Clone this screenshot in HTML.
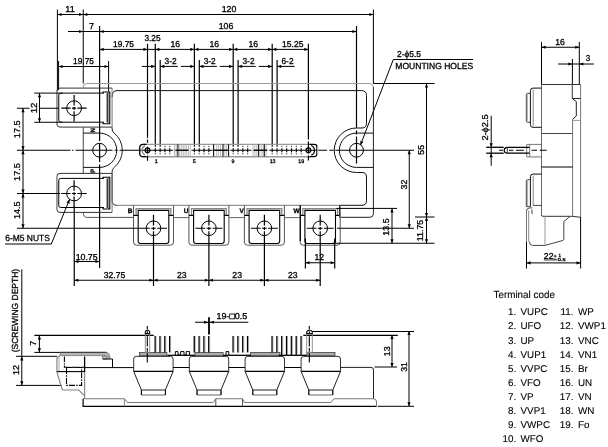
<!DOCTYPE html>
<html><head><meta charset="utf-8"><title>Outline drawing</title>
<style>
html,body{margin:0;padding:0;background:#fff;}
svg{display:block;}
text{font-family:"Liberation Sans",sans-serif;stroke:#000;stroke-width:0.3px;text-rendering:geometricPrecision;}
svg{filter:grayscale(1);}
</style></head>
<body>
<svg width="608" height="447" viewBox="0 0 608 447">
<rect width="608" height="447" fill="#fff"/>
<line x1="57.4" y1="9.5" x2="57.4" y2="91" stroke="#000" stroke-width="1"/>
<line x1="83.25" y1="9.5" x2="83.25" y2="83.5" stroke="#000" stroke-width="1"/>
<line x1="373.4" y1="9.5" x2="373.4" y2="83.5" stroke="#000" stroke-width="1"/>
<line x1="57.4" y1="14.5" x2="373.4" y2="14.5" stroke="#000" stroke-width="1"/>
<polygon points="57.4,14.5 61.5,12.9 61.5,16.1" fill="#000"/>
<polygon points="83.25,14.5 79.15,12.9 79.15,16.1" fill="#000"/>
<polygon points="83.25,14.5 87.35,12.9 87.35,16.1" fill="#000"/>
<polygon points="373.4,14.5 369.3,12.9 369.3,16.1" fill="#000"/>
<text x="70" y="12" font-size="8.6" text-anchor="middle" fill="#000" textLength="9.4" lengthAdjust="spacingAndGlyphs">11</text>
<text x="229" y="12" font-size="8.6" text-anchor="middle" fill="#000" textLength="14.63" lengthAdjust="spacingAndGlyphs">120</text>
<line x1="99.6" y1="26" x2="99.6" y2="127" stroke="#000" stroke-width="1.2"/>
<line x1="356.5" y1="26" x2="356.5" y2="128" stroke="#000" stroke-width="1.2"/>
<line x1="68" y1="31.5" x2="356.5" y2="31.5" stroke="#000" stroke-width="1"/>
<polygon points="83.25,31.5 79.15,29.9 79.15,33.1" fill="#000"/>
<polygon points="99.6,31.5 103.7,29.9 103.7,33.1" fill="#000"/>
<polygon points="356.5,31.5 352.4,29.9 352.4,33.1" fill="#000"/>
<text x="91.5" y="29" font-size="8.6" text-anchor="middle" fill="#000" textLength="4.7" lengthAdjust="spacingAndGlyphs">7</text>
<text x="226" y="28.5" font-size="8.6" text-anchor="middle" fill="#000" textLength="14.63" lengthAdjust="spacingAndGlyphs">106</text>
<line x1="58.6" y1="61" x2="58.6" y2="90" stroke="#000" stroke-width="1"/>
<line x1="108.6" y1="61" x2="108.6" y2="91.5" stroke="#000" stroke-width="1"/>
<line x1="58.6" y1="66.5" x2="108.6" y2="66.5" stroke="#000" stroke-width="1"/>
<polygon points="58.6,66.5 62.7,64.9 62.7,68.1" fill="#000"/>
<polygon points="108.6,66.5 104.5,64.9 104.5,68.1" fill="#000"/>
<text x="83.5" y="63.5" font-size="8.6" text-anchor="middle" fill="#000" textLength="20.9" lengthAdjust="spacingAndGlyphs">19.75</text>
<line x1="99.6" y1="49.4" x2="308.4" y2="49.4" stroke="#000" stroke-width="1"/>
<line x1="147.5" y1="43.75" x2="147.5" y2="138" stroke="#000" stroke-width="1.2"/>
<line x1="308.4" y1="43.75" x2="308.4" y2="139.5" stroke="#000" stroke-width="1.2"/>
<polygon points="99.6,49.4 103.7,47.8 103.7,51" fill="#000"/>
<polygon points="147.5,49.4 143.4,47.8 143.4,51" fill="#000"/>
<text x="123.5" y="47" font-size="8.6" text-anchor="middle" fill="#000" textLength="20.9" lengthAdjust="spacingAndGlyphs">19.75</text>
<text x="152.5" y="40.5" font-size="8.6" text-anchor="middle" fill="#000" textLength="16.2" lengthAdjust="spacingAndGlyphs">3.25</text>
<line x1="155.3" y1="43.75" x2="155.3" y2="146" stroke="#000" stroke-width="1.2"/>
<line x1="160.2" y1="60" x2="160.2" y2="146" stroke="#000" stroke-width="1.2"/>
<line x1="194.4" y1="43.75" x2="194.4" y2="146" stroke="#000" stroke-width="1.2"/>
<line x1="199.3" y1="60" x2="199.3" y2="146" stroke="#000" stroke-width="1.2"/>
<line x1="233.2" y1="43.75" x2="233.2" y2="146" stroke="#000" stroke-width="1.2"/>
<line x1="238.1" y1="60" x2="238.1" y2="146" stroke="#000" stroke-width="1.2"/>
<line x1="272.2" y1="43.75" x2="272.2" y2="146" stroke="#000" stroke-width="1.2"/>
<line x1="277.1" y1="60" x2="277.1" y2="146" stroke="#000" stroke-width="1.2"/>
<polygon points="155.3,49.4 159.4,47.8 159.4,51" fill="#000"/>
<polygon points="194.4,49.4 190.3,47.8 190.3,51" fill="#000"/>
<text x="175.35" y="47" font-size="8.6" text-anchor="middle" fill="#000" textLength="9.61" lengthAdjust="spacingAndGlyphs">16</text>
<line x1="141.8" y1="66.4" x2="155.3" y2="66.4" stroke="#000" stroke-width="1"/>
<polygon points="155.3,66.4 151.2,64.8 151.2,68" fill="#000"/>
<line x1="160.2" y1="66.4" x2="177.8" y2="66.4" stroke="#000" stroke-width="1"/>
<polygon points="160.2,66.4 164.3,64.8 164.3,68" fill="#000"/>
<text x="170.6" y="63.6" font-size="8.6" text-anchor="middle" fill="#000" textLength="12.02" lengthAdjust="spacingAndGlyphs">3-2</text>
<polygon points="194.4,49.4 198.5,47.8 198.5,51" fill="#000"/>
<polygon points="233.2,49.4 229.1,47.8 229.1,51" fill="#000"/>
<text x="214.3" y="47" font-size="8.6" text-anchor="middle" fill="#000" textLength="9.61" lengthAdjust="spacingAndGlyphs">16</text>
<line x1="180.9" y1="66.4" x2="194.4" y2="66.4" stroke="#000" stroke-width="1"/>
<polygon points="194.4,66.4 190.3,64.8 190.3,68" fill="#000"/>
<line x1="199.3" y1="66.4" x2="216.9" y2="66.4" stroke="#000" stroke-width="1"/>
<polygon points="199.3,66.4 203.4,64.8 203.4,68" fill="#000"/>
<text x="209.7" y="63.6" font-size="8.6" text-anchor="middle" fill="#000" textLength="12.02" lengthAdjust="spacingAndGlyphs">3-2</text>
<polygon points="233.2,49.4 237.3,47.8 237.3,51" fill="#000"/>
<polygon points="272.2,49.4 268.1,47.8 268.1,51" fill="#000"/>
<text x="253.2" y="47" font-size="8.6" text-anchor="middle" fill="#000" textLength="9.61" lengthAdjust="spacingAndGlyphs">16</text>
<line x1="219.7" y1="66.4" x2="233.2" y2="66.4" stroke="#000" stroke-width="1"/>
<polygon points="233.2,66.4 229.1,64.8 229.1,68" fill="#000"/>
<line x1="238.1" y1="66.4" x2="255.7" y2="66.4" stroke="#000" stroke-width="1"/>
<polygon points="238.1,66.4 242.2,64.8 242.2,68" fill="#000"/>
<text x="248.5" y="63.6" font-size="8.6" text-anchor="middle" fill="#000" textLength="12.02" lengthAdjust="spacingAndGlyphs">3-2</text>
<polygon points="272.2,49.4 276.3,47.8 276.3,51" fill="#000"/>
<polygon points="308.4,49.4 304.3,47.8 304.3,51" fill="#000"/>
<text x="292.8" y="47" font-size="8.6" text-anchor="middle" fill="#000" textLength="21.42" lengthAdjust="spacingAndGlyphs">15.25</text>
<line x1="258.7" y1="66.4" x2="272.2" y2="66.4" stroke="#000" stroke-width="1"/>
<polygon points="272.2,66.4 268.1,64.8 268.1,68" fill="#000"/>
<line x1="277.1" y1="66.4" x2="294.7" y2="66.4" stroke="#000" stroke-width="1"/>
<polygon points="277.1,66.4 281.2,64.8 281.2,68" fill="#000"/>
<text x="287.5" y="63.6" font-size="8.6" text-anchor="middle" fill="#000" textLength="12.02" lengthAdjust="spacingAndGlyphs">6-2</text>
<path d="M83.25,88 V87.5 Q83.25,83.5 86.75,83.5 H369.9 Q373.4,83.5 373.4,87" fill="none" stroke="#999" stroke-width="1"/>
<path d="M373.4,87 V213.7 Q373.4,217.3 369.9,217.3 H339.5" fill="none" stroke="#222" stroke-width="1"/>
<line x1="83.25" y1="127.25" x2="83.25" y2="173.4" stroke="#444" stroke-width="1"/>
<path d="M83.25,212 Q83.25,217.4 86.75,217.4 H133.5" fill="none" stroke="#555" stroke-width="1"/>
<path d="M112.1,97 Q112.1,90.6 117,90.6 H361.5 Q366.5,90.6 366.5,95.5 V123.3 Q366.5,128 362,128 H356.5 A22.25,22.25 0 0 0 356.5,172.5 H362 Q366.5,172.5 366.5,177 V200.8 Q366.5,205.3 362,205.3 H339.5" fill="none" stroke="#111" stroke-width="1"/>
<line x1="117" y1="205.3" x2="339.5" y2="205.3" stroke="#777" stroke-width="1"/>
<path d="M117,205.3 Q112.1,205.3 112.1,200.5 V171.5 Q112.1,169.5 114,167.6 A22.25,22.25 0 0 0 114,132.9 Q112.1,131 112.1,129 V127.25" fill="none" stroke="#222" stroke-width="1"/>
<path d="M83.25,133.1 H99.6 A17.1,17.1 0 0 1 99.6,167.4 H83.25" fill="none" stroke="#111" stroke-width="1"/>
<path d="M373.4,133.1 H356.5 A17.1,17.1 0 0 0 356.5,167.4 H373.4" fill="none" stroke="#111" stroke-width="1"/>
<circle cx="99.6" cy="150.25" r="6.9" fill="none" stroke="#000" stroke-width="1"/>
<circle cx="356.5" cy="150.25" r="6.9" fill="none" stroke="#000" stroke-width="1"/>
<line x1="99.6" y1="127" x2="99.6" y2="268" stroke="#000" stroke-width="1.2" stroke-dasharray="14 2.5 18.5 2.5 200"/>
<line x1="356.5" y1="130.5" x2="356.5" y2="163.5" stroke="#000" stroke-width="1.2" stroke-dasharray="4 2 40"/>
<line x1="17" y1="150.25" x2="70.5" y2="150.25" stroke="#000" stroke-width="1"/>
<line x1="72" y1="150.25" x2="139.4" y2="150.25" stroke="#000" stroke-width="1" stroke-dasharray="1.5 2 37 2 3 2 40"/>
<line x1="139" y1="150.25" x2="173.3" y2="150.25" stroke="#000" stroke-width="1"/>
<line x1="191.5" y1="150.25" x2="212.6" y2="150.25" stroke="#000" stroke-width="1"/>
<line x1="230.3" y1="150.25" x2="251.4" y2="150.25" stroke="#000" stroke-width="1"/>
<line x1="269.3" y1="150.25" x2="317.5" y2="150.25" stroke="#000" stroke-width="1"/>
<line x1="317.6" y1="150.25" x2="366" y2="150.25" stroke="#000" stroke-width="1" stroke-dasharray="9.5 2.2 4.5 1.5 40"/>
<line x1="366" y1="150.25" x2="414" y2="150.25" stroke="#000" stroke-width="1"/>
<text x="95.3" y="130.3" font-size="6.3" text-anchor="middle" fill="#000" transform="rotate(-90 95.3 130.3)" textLength="4.39" lengthAdjust="spacingAndGlyphs" font-weight="bold">N</text>
<text x="95.3" y="171" font-size="6.3" text-anchor="middle" fill="#000" transform="rotate(-90 95.3 171)" textLength="4.18" lengthAdjust="spacingAndGlyphs" font-weight="bold">P</text>
<path d="M112.1,88.1 H60 Q56.9,88.1 56.9,91.1 V124.1 Q56.9,127.1 60,127.1 H112.1" fill="none" stroke="#333" stroke-width="1"/>
<line x1="57.1" y1="91.6" x2="57.1" y2="123.6" stroke="#aaa" stroke-width="1.4"/>
<line x1="112.1" y1="88.1" x2="112.1" y2="127.1" stroke="#777" stroke-width="1"/>
<path d="M104,93.1 H60.8 Q58.75,93.1 58.75,95.1 V120.2 Q58.75,122.2 60.8,122.2 H104" fill="none" stroke="#000" stroke-width="1"/>
<line x1="108.5" y1="92" x2="108.5" y2="123.7" stroke="#999" stroke-width="1.5"/>
<path d="M103,93.3 V92 H109.8 V123.7 H103 V122.4" fill="none" stroke="#000" stroke-width="1.1"/>
<line x1="107.2" y1="93.1" x2="107.2" y2="122.6" stroke="#000" stroke-width="1.1"/>
<circle cx="74.1" cy="108.2" r="7.4" fill="none" stroke="#000" stroke-width="1"/>
<line x1="61.3" y1="108.2" x2="86.6" y2="108.2" stroke="#000" stroke-width="1.2" stroke-dasharray="9.3 1.4 4 1.4 9.3"/>
<line x1="74.1" y1="95" x2="74.1" y2="121.6" stroke="#000" stroke-width="1.2" stroke-dasharray="10.5 1.4 3 1.4 10.5"/>
<path d="M112.1,173.4 H60 Q56.9,173.4 56.9,176.4 V209.4 Q56.9,212.4 60,212.4 H112.1" fill="none" stroke="#333" stroke-width="1"/>
<line x1="57.1" y1="176.9" x2="57.1" y2="208.9" stroke="#aaa" stroke-width="1.4"/>
<line x1="112.1" y1="173.4" x2="112.1" y2="212.4" stroke="#777" stroke-width="1"/>
<path d="M104,178.4 H60.8 Q58.75,178.4 58.75,180.4 V205.5 Q58.75,207.5 60.8,207.5 H104" fill="none" stroke="#000" stroke-width="1"/>
<line x1="108.5" y1="177.3" x2="108.5" y2="209" stroke="#999" stroke-width="1.5"/>
<path d="M103,178.6 V177.3 H109.8 V209 H103 V207.7" fill="none" stroke="#000" stroke-width="1.1"/>
<line x1="107.2" y1="178.4" x2="107.2" y2="207.9" stroke="#000" stroke-width="1.1"/>
<circle cx="74.1" cy="193.5" r="7.4" fill="none" stroke="#000" stroke-width="1"/>
<line x1="61.3" y1="193.5" x2="86.6" y2="193.5" stroke="#000" stroke-width="1.2" stroke-dasharray="9.3 1.4 4 1.4 9.3"/>
<line x1="74.1" y1="180.3" x2="74.1" y2="206.9" stroke="#000" stroke-width="1.2" stroke-dasharray="10.5 1.4 3 1.4 10.5"/>
<line x1="143" y1="144.35" x2="311" y2="144.35" stroke="#999" stroke-width="1.3"/>
<line x1="143" y1="156.75" x2="311" y2="156.75" stroke="#999" stroke-width="1.3"/>
<path d="M146.5,144.4 H143.2 Q139.7,144.4 139.7,147.9 V153.2 Q139.7,156.7 143.2,156.7 H146.5" fill="none" stroke="#000" stroke-width="1.3"/>
<path d="M145,145.6 A5.2,5.2 0 0 0 145,154.9" fill="none" stroke="#888" stroke-width="1.3"/>
<path d="M309.5,144.4 H314.4 Q316.9,144.4 316.9,147 V154.1 Q316.9,156.6 314.4,156.6 H309.5" fill="none" stroke="#000" stroke-width="1.2"/>
<path d="M311.2,145.5 A5.3,5.3 0 0 1 311.2,155.3" fill="none" stroke="#000" stroke-width="1.2"/>
<line x1="317.9" y1="146.5" x2="317.9" y2="154.5" stroke="#ccc" stroke-width="1"/>
<circle cx="147.5" cy="150.25" r="2.4" fill="none" stroke="#000" stroke-width="1.2"/>
<circle cx="308.4" cy="150.25" r="2.4" fill="none" stroke="#000" stroke-width="1.2"/>
<line x1="147.5" y1="139.5" x2="147.5" y2="142.7" stroke="#000" stroke-width="1.2"/>
<line x1="147.5" y1="146.7" x2="147.5" y2="153.7" stroke="#000" stroke-width="1.2"/>
<line x1="147.5" y1="155.5" x2="147.5" y2="160.8" stroke="#000" stroke-width="1.2"/>
<line x1="308.4" y1="141.5" x2="308.4" y2="153.7" stroke="#000" stroke-width="1.2"/>
<line x1="308.4" y1="155.5" x2="308.4" y2="160.6" stroke="#000" stroke-width="1.2"/>
<line x1="155.3" y1="148.2" x2="155.3" y2="152.3" stroke="#000" stroke-width="1.1"/>
<line x1="155.3" y1="145.8" x2="155.3" y2="147.1" stroke="#333" stroke-width="1"/>
<line x1="155.3" y1="153.2" x2="155.3" y2="154.4" stroke="#333" stroke-width="1"/>
<line x1="160.13" y1="148.2" x2="160.13" y2="152.3" stroke="#000" stroke-width="1.1"/>
<line x1="160.13" y1="145.8" x2="160.13" y2="147.1" stroke="#333" stroke-width="1"/>
<line x1="160.13" y1="153.2" x2="160.13" y2="154.4" stroke="#333" stroke-width="1"/>
<line x1="164.96" y1="148.2" x2="164.96" y2="152.3" stroke="#000" stroke-width="1.1"/>
<line x1="164.96" y1="145.8" x2="164.96" y2="147.1" stroke="#333" stroke-width="1"/>
<line x1="164.96" y1="153.2" x2="164.96" y2="154.4" stroke="#333" stroke-width="1"/>
<line x1="169.79" y1="148.2" x2="169.79" y2="152.3" stroke="#000" stroke-width="1.1"/>
<line x1="169.79" y1="145.8" x2="169.79" y2="147.1" stroke="#333" stroke-width="1"/>
<line x1="169.79" y1="153.2" x2="169.79" y2="154.4" stroke="#333" stroke-width="1"/>
<line x1="194.4" y1="148.2" x2="194.4" y2="152.3" stroke="#000" stroke-width="1.1"/>
<line x1="194.4" y1="145.8" x2="194.4" y2="147.1" stroke="#333" stroke-width="1"/>
<line x1="194.4" y1="153.2" x2="194.4" y2="154.4" stroke="#333" stroke-width="1"/>
<line x1="199.23" y1="148.2" x2="199.23" y2="152.3" stroke="#000" stroke-width="1.1"/>
<line x1="199.23" y1="145.8" x2="199.23" y2="147.1" stroke="#333" stroke-width="1"/>
<line x1="199.23" y1="153.2" x2="199.23" y2="154.4" stroke="#333" stroke-width="1"/>
<line x1="204.06" y1="148.2" x2="204.06" y2="152.3" stroke="#000" stroke-width="1.1"/>
<line x1="204.06" y1="145.8" x2="204.06" y2="147.1" stroke="#333" stroke-width="1"/>
<line x1="204.06" y1="153.2" x2="204.06" y2="154.4" stroke="#333" stroke-width="1"/>
<line x1="208.89" y1="148.2" x2="208.89" y2="152.3" stroke="#000" stroke-width="1.1"/>
<line x1="208.89" y1="145.8" x2="208.89" y2="147.1" stroke="#333" stroke-width="1"/>
<line x1="208.89" y1="153.2" x2="208.89" y2="154.4" stroke="#333" stroke-width="1"/>
<line x1="233.2" y1="148.2" x2="233.2" y2="152.3" stroke="#000" stroke-width="1.1"/>
<line x1="233.2" y1="145.8" x2="233.2" y2="147.1" stroke="#333" stroke-width="1"/>
<line x1="233.2" y1="153.2" x2="233.2" y2="154.4" stroke="#333" stroke-width="1"/>
<line x1="238.03" y1="148.2" x2="238.03" y2="152.3" stroke="#000" stroke-width="1.1"/>
<line x1="238.03" y1="145.8" x2="238.03" y2="147.1" stroke="#333" stroke-width="1"/>
<line x1="238.03" y1="153.2" x2="238.03" y2="154.4" stroke="#333" stroke-width="1"/>
<line x1="242.86" y1="148.2" x2="242.86" y2="152.3" stroke="#000" stroke-width="1.1"/>
<line x1="242.86" y1="145.8" x2="242.86" y2="147.1" stroke="#333" stroke-width="1"/>
<line x1="242.86" y1="153.2" x2="242.86" y2="154.4" stroke="#333" stroke-width="1"/>
<line x1="247.69" y1="148.2" x2="247.69" y2="152.3" stroke="#000" stroke-width="1.1"/>
<line x1="247.69" y1="145.8" x2="247.69" y2="147.1" stroke="#333" stroke-width="1"/>
<line x1="247.69" y1="153.2" x2="247.69" y2="154.4" stroke="#333" stroke-width="1"/>
<line x1="272.2" y1="148.2" x2="272.2" y2="152.3" stroke="#000" stroke-width="1.1"/>
<line x1="272.2" y1="145.8" x2="272.2" y2="147.1" stroke="#333" stroke-width="1"/>
<line x1="272.2" y1="153.2" x2="272.2" y2="154.4" stroke="#333" stroke-width="1"/>
<line x1="277.03" y1="148.2" x2="277.03" y2="152.3" stroke="#000" stroke-width="1.1"/>
<line x1="277.03" y1="145.8" x2="277.03" y2="147.1" stroke="#333" stroke-width="1"/>
<line x1="277.03" y1="153.2" x2="277.03" y2="154.4" stroke="#333" stroke-width="1"/>
<line x1="281.86" y1="148.2" x2="281.86" y2="152.3" stroke="#000" stroke-width="1.1"/>
<line x1="281.86" y1="145.8" x2="281.86" y2="147.1" stroke="#333" stroke-width="1"/>
<line x1="281.86" y1="153.2" x2="281.86" y2="154.4" stroke="#333" stroke-width="1"/>
<line x1="286.69" y1="148.2" x2="286.69" y2="152.3" stroke="#000" stroke-width="1.1"/>
<line x1="286.69" y1="145.8" x2="286.69" y2="147.1" stroke="#333" stroke-width="1"/>
<line x1="286.69" y1="153.2" x2="286.69" y2="154.4" stroke="#333" stroke-width="1"/>
<line x1="291.52" y1="148.2" x2="291.52" y2="152.3" stroke="#000" stroke-width="1.1"/>
<line x1="291.52" y1="145.8" x2="291.52" y2="147.1" stroke="#333" stroke-width="1"/>
<line x1="291.52" y1="153.2" x2="291.52" y2="154.4" stroke="#333" stroke-width="1"/>
<line x1="296.35" y1="148.2" x2="296.35" y2="152.3" stroke="#000" stroke-width="1.1"/>
<line x1="296.35" y1="145.8" x2="296.35" y2="147.1" stroke="#333" stroke-width="1"/>
<line x1="296.35" y1="153.2" x2="296.35" y2="154.4" stroke="#333" stroke-width="1"/>
<line x1="301.18" y1="148.2" x2="301.18" y2="152.3" stroke="#000" stroke-width="1.1"/>
<line x1="301.18" y1="145.8" x2="301.18" y2="147.1" stroke="#333" stroke-width="1"/>
<line x1="301.18" y1="153.2" x2="301.18" y2="154.4" stroke="#333" stroke-width="1"/>
<line x1="174.5" y1="144.2" x2="174.5" y2="156.6" stroke="#aaa" stroke-width="0.8"/>
<line x1="176.2" y1="144.2" x2="176.2" y2="156.6" stroke="#aaa" stroke-width="0.8"/>
<line x1="179.8" y1="144.2" x2="179.8" y2="156.6" stroke="#aaa" stroke-width="0.8"/>
<line x1="181.6" y1="144.2" x2="181.6" y2="156.6" stroke="#aaa" stroke-width="0.8"/>
<line x1="183.3" y1="144.2" x2="183.3" y2="156.6" stroke="#aaa" stroke-width="0.8"/>
<line x1="185" y1="144.2" x2="185" y2="156.6" stroke="#aaa" stroke-width="0.8"/>
<line x1="186.7" y1="144.2" x2="186.7" y2="156.6" stroke="#aaa" stroke-width="0.8"/>
<line x1="188.5" y1="144.2" x2="188.5" y2="156.6" stroke="#aaa" stroke-width="0.8"/>
<line x1="190.3" y1="144.2" x2="190.3" y2="156.6" stroke="#aaa" stroke-width="0.8"/>
<line x1="177.9" y1="144.2" x2="177.9" y2="156.6" stroke="#111" stroke-width="1.1"/>
<line x1="175.4" y1="150.25" x2="188.5" y2="150.25" stroke="#000" stroke-width="1.4"/>
<line x1="216.7" y1="144.2" x2="216.7" y2="156.6" stroke="#aaa" stroke-width="0.8"/>
<line x1="218.6" y1="144.2" x2="218.6" y2="156.6" stroke="#aaa" stroke-width="0.8"/>
<line x1="220.5" y1="144.2" x2="220.5" y2="156.6" stroke="#aaa" stroke-width="0.8"/>
<line x1="224.9" y1="144.2" x2="224.9" y2="156.6" stroke="#aaa" stroke-width="0.8"/>
<line x1="226.7" y1="144.2" x2="226.7" y2="156.6" stroke="#aaa" stroke-width="0.8"/>
<line x1="213.6" y1="144.2" x2="213.6" y2="156.6" stroke="#111" stroke-width="1.1"/>
<line x1="223" y1="144.2" x2="223" y2="156.6" stroke="#111" stroke-width="1.1"/>
<line x1="228.6" y1="144.2" x2="228.6" y2="156.6" stroke="#111" stroke-width="1.1"/>
<line x1="213.6" y1="150.25" x2="228.6" y2="150.25" stroke="#000" stroke-width="1.4"/>
<line x1="253" y1="144.2" x2="253" y2="156.6" stroke="#aaa" stroke-width="0.8"/>
<line x1="254.9" y1="144.2" x2="254.9" y2="156.6" stroke="#aaa" stroke-width="0.8"/>
<line x1="256.8" y1="144.2" x2="256.8" y2="156.6" stroke="#aaa" stroke-width="0.8"/>
<line x1="261.15" y1="144.2" x2="261.15" y2="156.6" stroke="#aaa" stroke-width="0.8"/>
<line x1="263" y1="144.2" x2="263" y2="156.6" stroke="#aaa" stroke-width="0.8"/>
<line x1="266" y1="144.2" x2="266" y2="156.6" stroke="#aaa" stroke-width="0.8"/>
<line x1="258.65" y1="144.2" x2="258.65" y2="156.6" stroke="#111" stroke-width="1.1"/>
<line x1="264.3" y1="144.2" x2="264.3" y2="156.6" stroke="#111" stroke-width="1.1"/>
<line x1="253.5" y1="150.25" x2="267.4" y2="150.25" stroke="#000" stroke-width="1.4"/>
<text x="156.2" y="162.7" font-size="5.3" text-anchor="middle" fill="#000">1</text>
<text x="194.2" y="162.7" font-size="5.3" text-anchor="middle" fill="#000">5</text>
<text x="233" y="162.7" font-size="5.3" text-anchor="middle" fill="#000">9</text>
<text x="272.6" y="162.7" font-size="5.3" text-anchor="middle" fill="#000">13</text>
<text x="301.2" y="162.7" font-size="5.3" text-anchor="middle" fill="#000">19</text>
<path d="M133.5,205.3 V242 Q133.5,245.2 136.5,245.2 H170.5 Q173.5,245.2 173.5,242 V205.3" fill="none" stroke="#555" stroke-width="1"/>
<path d="M136.1,215.4 V208.6 H170.9 V215.4" fill="none" stroke="#888" stroke-width="1.3"/>
<path d="M138.2,210.4 H168.8 V241 Q168.8,243.5 166.3,243.5 H140.7 Q138.2,243.5 138.2,241 Z" fill="none" stroke="#000" stroke-width="1.1"/>
<line x1="133.5" y1="215.4" x2="138.2" y2="215.4" stroke="#000" stroke-width="1.2"/>
<line x1="168.8" y1="215.4" x2="173.5" y2="215.4" stroke="#000" stroke-width="1.2"/>
<circle cx="153.5" cy="228.25" r="7.3" fill="none" stroke="#000" stroke-width="1"/>
<line x1="140" y1="228.25" x2="167" y2="228.25" stroke="#000" stroke-width="1.2" stroke-dasharray="9.8 1.4 4.6 1.4 9.8"/>
<line x1="153.5" y1="214.8" x2="153.5" y2="286" stroke="#000" stroke-width="1.2" stroke-dasharray="10.7 1.4 3 1.4 100"/>
<line x1="173.5" y1="217.6" x2="189.1" y2="217.6" stroke="#666" stroke-width="1"/>
<path d="M188.9,205.3 V242 Q188.9,245.2 191.9,245.2 H225.9 Q228.9,245.2 228.9,242 V205.3" fill="none" stroke="#555" stroke-width="1"/>
<path d="M191.5,215.4 V208.6 H226.3 V215.4" fill="none" stroke="#888" stroke-width="1.3"/>
<path d="M193.6,210.4 H224.2 V241 Q224.2,243.5 221.7,243.5 H196.1 Q193.6,243.5 193.6,241 Z" fill="none" stroke="#000" stroke-width="1.1"/>
<line x1="188.9" y1="215.4" x2="193.6" y2="215.4" stroke="#000" stroke-width="1.2"/>
<line x1="224.2" y1="215.4" x2="228.9" y2="215.4" stroke="#000" stroke-width="1.2"/>
<circle cx="208.9" cy="228.25" r="7.3" fill="none" stroke="#000" stroke-width="1"/>
<line x1="195.4" y1="228.25" x2="222.4" y2="228.25" stroke="#000" stroke-width="1.2" stroke-dasharray="9.8 1.4 4.6 1.4 9.8"/>
<line x1="208.9" y1="214.8" x2="208.9" y2="286" stroke="#000" stroke-width="1.2" stroke-dasharray="10.7 1.4 3 1.4 100"/>
<line x1="228.9" y1="217.6" x2="244.5" y2="217.6" stroke="#666" stroke-width="1"/>
<path d="M244.4,205.3 V242 Q244.4,245.2 247.4,245.2 H281.4 Q284.4,245.2 284.4,242 V205.3" fill="none" stroke="#555" stroke-width="1"/>
<path d="M247,215.4 V208.6 H281.8 V215.4" fill="none" stroke="#888" stroke-width="1.3"/>
<path d="M249.1,210.4 H279.7 V241 Q279.7,243.5 277.2,243.5 H251.6 Q249.1,243.5 249.1,241 Z" fill="none" stroke="#000" stroke-width="1.1"/>
<line x1="244.4" y1="215.4" x2="249.1" y2="215.4" stroke="#000" stroke-width="1.2"/>
<line x1="279.7" y1="215.4" x2="284.4" y2="215.4" stroke="#000" stroke-width="1.2"/>
<circle cx="264.4" cy="228.25" r="7.3" fill="none" stroke="#000" stroke-width="1"/>
<line x1="250.9" y1="228.25" x2="277.9" y2="228.25" stroke="#000" stroke-width="1.2" stroke-dasharray="9.8 1.4 4.6 1.4 9.8"/>
<line x1="264.4" y1="214.8" x2="264.4" y2="286" stroke="#000" stroke-width="1.2" stroke-dasharray="10.7 1.4 3 1.4 100"/>
<line x1="284.4" y1="217.6" x2="300" y2="217.6" stroke="#666" stroke-width="1"/>
<path d="M300.2,205.3 V242 Q300.2,245.2 303.2,245.2 H337.2 Q340.2,245.2 340.2,242 V205.3" fill="none" stroke="#555" stroke-width="1"/>
<path d="M302.8,215.4 V208.6 H337.6 V215.4" fill="none" stroke="#888" stroke-width="1.3"/>
<path d="M304.9,210.4 H335.5 V241 Q335.5,243.5 333,243.5 H307.4 Q304.9,243.5 304.9,241 Z" fill="none" stroke="#000" stroke-width="1.1"/>
<line x1="300.2" y1="215.4" x2="304.9" y2="215.4" stroke="#000" stroke-width="1.2"/>
<line x1="335.5" y1="215.4" x2="340.2" y2="215.4" stroke="#000" stroke-width="1.2"/>
<circle cx="320.2" cy="228.25" r="7.3" fill="none" stroke="#000" stroke-width="1"/>
<line x1="306.7" y1="228.25" x2="333.7" y2="228.25" stroke="#000" stroke-width="1.2" stroke-dasharray="9.8 1.4 4.6 1.4 9.8"/>
<line x1="320.2" y1="214.8" x2="320.2" y2="286" stroke="#000" stroke-width="1.2" stroke-dasharray="10.7 1.4 3 1.4 100"/>
<text x="130" y="212.6" font-size="6.5" text-anchor="middle" fill="#000" font-weight="bold">B</text>
<text x="186" y="212.6" font-size="6.5" text-anchor="middle" fill="#000" font-weight="bold">U</text>
<text x="241.6" y="212.6" font-size="6.5" text-anchor="middle" fill="#000" font-weight="bold">V</text>
<text x="296.5" y="212.6" font-size="6.5" text-anchor="middle" fill="#000" font-weight="bold">W</text>
<line x1="300.3" y1="205.3" x2="300.3" y2="241" stroke="#000" stroke-width="1.2"/>
<line x1="339.5" y1="205.3" x2="339.5" y2="217" stroke="#333" stroke-width="1"/>
<line x1="39.5" y1="93.1" x2="39.5" y2="122.25" stroke="#000" stroke-width="1"/>
<line x1="34.25" y1="93.1" x2="62.5" y2="93.1" stroke="#000" stroke-width="1"/>
<line x1="34.25" y1="122.25" x2="62.5" y2="122.25" stroke="#000" stroke-width="1"/>
<polygon points="39.5,93.1 37.9,97.2 41.1,97.2" fill="#000"/>
<polygon points="39.5,122.25 37.9,118.15 41.1,118.15" fill="#000"/>
<text x="37.2" y="107.9" font-size="8.8" text-anchor="middle" fill="#000" transform="rotate(-90 37.2 107.9)" textLength="10.76" lengthAdjust="spacingAndGlyphs">12</text>
<line x1="23" y1="108.25" x2="23" y2="228.25" stroke="#000" stroke-width="1"/>
<line x1="17" y1="108.25" x2="29.5" y2="108.25" stroke="#000" stroke-width="1"/>
<line x1="39.5" y1="108.25" x2="58.75" y2="108.25" stroke="#000" stroke-width="1"/>
<line x1="17" y1="193.5" x2="60" y2="193.5" stroke="#000" stroke-width="1"/>
<line x1="17" y1="228.25" x2="140" y2="228.25" stroke="#000" stroke-width="1"/>
<polygon points="23,108.25 21.4,112.35 24.6,112.35" fill="#000"/>
<polygon points="23,150.25 21.4,154.35 24.6,154.35" fill="#000"/>
<polygon points="23,193.5 21.4,197.6 24.6,197.6" fill="#000"/>
<polygon points="23,150.25 21.4,146.15 24.6,146.15" fill="#000"/>
<polygon points="23,193.5 21.4,189.4 24.6,189.4" fill="#000"/>
<polygon points="23,228.25 21.4,224.15 24.6,224.15" fill="#000"/>
<text x="19.8" y="129.3" font-size="8.6" text-anchor="middle" fill="#000" transform="rotate(-90 19.8 129.3)" textLength="17.77" lengthAdjust="spacingAndGlyphs">17.5</text>
<text x="19.8" y="172" font-size="8.6" text-anchor="middle" fill="#000" transform="rotate(-90 19.8 172)" textLength="17.77" lengthAdjust="spacingAndGlyphs">17.5</text>
<text x="19.8" y="210.2" font-size="8.6" text-anchor="middle" fill="#000" transform="rotate(-90 19.8 210.2)" textLength="17.77" lengthAdjust="spacingAndGlyphs">14.5</text>
<line x1="373.4" y1="83.5" x2="434.5" y2="83.5" stroke="#000" stroke-width="1"/>
<line x1="415" y1="217" x2="434.5" y2="217" stroke="#000" stroke-width="1"/>
<line x1="332.5" y1="243.25" x2="434.5" y2="243.25" stroke="#000" stroke-width="1"/>
<line x1="336.3" y1="208.4" x2="397" y2="208.4" stroke="#000" stroke-width="1"/>
<line x1="337" y1="228.25" x2="414" y2="228.25" stroke="#000" stroke-width="1"/>
<line x1="426.5" y1="83.5" x2="426.5" y2="243.25" stroke="#000" stroke-width="1"/>
<polygon points="426.5,83.5 424.9,87.6 428.1,87.6" fill="#000"/>
<polygon points="426.5,217 424.9,212.9 428.1,212.9" fill="#000"/>
<polygon points="426.5,217 424.9,221.1 428.1,221.1" fill="#000"/>
<polygon points="426.5,243.25 424.9,239.15 428.1,239.15" fill="#000"/>
<text x="423.6" y="149.8" font-size="8.6" text-anchor="middle" fill="#000" transform="rotate(-90 423.6 149.8)" textLength="9.72" lengthAdjust="spacingAndGlyphs">55</text>
<text x="423.4" y="230.5" font-size="8.6" text-anchor="middle" fill="#000" transform="rotate(-90 423.4 230.5)" textLength="21.42" lengthAdjust="spacingAndGlyphs">11.75</text>
<line x1="409.25" y1="150.25" x2="409.25" y2="228.25" stroke="#000" stroke-width="1"/>
<polygon points="409.25,150.25 407.65,154.35 410.85,154.35" fill="#000"/>
<polygon points="409.25,228.25 407.65,224.15 410.85,224.15" fill="#000"/>
<text x="406.5" y="184.5" font-size="8.6" text-anchor="middle" fill="#000" transform="rotate(-90 406.5 184.5)" textLength="9.72" lengthAdjust="spacingAndGlyphs">32</text>
<line x1="392" y1="208.4" x2="392" y2="243.25" stroke="#000" stroke-width="1"/>
<polygon points="392,208.4 390.4,212.5 393.6,212.5" fill="#000"/>
<polygon points="392,243.25 390.4,239.15 393.6,239.15" fill="#000"/>
<text x="388.9" y="227" font-size="8.6" text-anchor="middle" fill="#000" transform="rotate(-90 388.9 227)" textLength="17.24" lengthAdjust="spacingAndGlyphs">13.5</text>
<line x1="393.3" y1="59.5" x2="473" y2="59.5" stroke="#000" stroke-width="1"/>
<line x1="393.3" y1="59.5" x2="360.4" y2="145.2" stroke="#000" stroke-width="1"/>
<polygon points="360.4,145.2 363.36,141.94 360.38,140.8" fill="#000"/>
<text x="397" y="57" font-size="8.6" text-anchor="start" fill="#000" textLength="24.03" lengthAdjust="spacingAndGlyphs">2-&#981;5.5</text>
<text x="395.3" y="68.5" font-size="8.9" text-anchor="start" fill="#000" textLength="77.85" lengthAdjust="spacingAndGlyphs">MOUNTING HOLES</text>
<text x="5.3" y="240.5" font-size="8.9" text-anchor="start" fill="#000" textLength="44.52" lengthAdjust="spacingAndGlyphs">6-M5 NUTS</text>
<line x1="5" y1="244" x2="51.3" y2="244" stroke="#000" stroke-width="1"/>
<line x1="51.3" y1="244" x2="69.6" y2="199.3" stroke="#000" stroke-width="1"/>
<polygon points="69.6,199.3 69.53,203.7 66.57,202.48" fill="#000"/>
<line x1="74.25" y1="206.8" x2="74.25" y2="286" stroke="#000" stroke-width="1.2"/>
<line x1="74.25" y1="261.5" x2="99.6" y2="261.5" stroke="#000" stroke-width="1"/>
<polygon points="74.25,261.5 78.35,259.9 78.35,263.1" fill="#000"/>
<polygon points="99.6,261.5 95.5,259.9 95.5,263.1" fill="#000"/>
<text x="86.6" y="259.7" font-size="8.6" text-anchor="middle" fill="#000" textLength="21.95" lengthAdjust="spacingAndGlyphs">10.75</text>
<line x1="74.25" y1="280.25" x2="320.2" y2="280.25" stroke="#000" stroke-width="1"/>
<polygon points="74.25,280.25 78.35,278.65 78.35,281.85" fill="#000"/>
<polygon points="153.5,280.25 149.4,278.65 149.4,281.85" fill="#000"/>
<polygon points="153.5,280.25 157.6,278.65 157.6,281.85" fill="#000"/>
<polygon points="208.9,280.25 204.8,278.65 204.8,281.85" fill="#000"/>
<polygon points="208.9,280.25 213,278.65 213,281.85" fill="#000"/>
<polygon points="264.4,280.25 260.3,278.65 260.3,281.85" fill="#000"/>
<polygon points="264.4,280.25 268.5,278.65 268.5,281.85" fill="#000"/>
<polygon points="320.2,280.25 316.1,278.65 316.1,281.85" fill="#000"/>
<text x="114.5" y="277.8" font-size="8.6" text-anchor="middle" fill="#000" textLength="21.42" lengthAdjust="spacingAndGlyphs">32.75</text>
<text x="181.7" y="277.8" font-size="8.6" text-anchor="middle" fill="#000" textLength="9.61" lengthAdjust="spacingAndGlyphs">23</text>
<text x="237.15" y="277.8" font-size="8.6" text-anchor="middle" fill="#000" textLength="9.61" lengthAdjust="spacingAndGlyphs">23</text>
<text x="292.8" y="277.8" font-size="8.6" text-anchor="middle" fill="#000" textLength="9.61" lengthAdjust="spacingAndGlyphs">23</text>
<line x1="305.4" y1="238.5" x2="305.4" y2="268.5" stroke="#000" stroke-width="1.2"/>
<line x1="334.7" y1="238.5" x2="334.7" y2="268.5" stroke="#000" stroke-width="1.2"/>
<line x1="305.4" y1="262.75" x2="334.7" y2="262.75" stroke="#000" stroke-width="1"/>
<polygon points="305.4,262.75 309.5,261.15 309.5,264.35" fill="#000"/>
<polygon points="334.7,262.75 330.6,261.15 330.6,264.35" fill="#000"/>
<text x="319.3" y="259.7" font-size="8.6" text-anchor="middle" fill="#000" textLength="9.61" lengthAdjust="spacingAndGlyphs">12</text>
<line x1="195" y1="322.25" x2="248.3" y2="322.25" stroke="#000" stroke-width="1"/>
<line x1="209" y1="317.2" x2="209" y2="334.4" stroke="#000" stroke-width="1.8"/>
<polygon points="208.2,322.25 204.1,320.65 204.1,323.85" fill="#000"/>
<polygon points="209.8,322.25 213.9,320.65 213.9,323.85" fill="#000"/>
<text x="216.5" y="319" font-size="8.6" text-anchor="start" fill="#000" textLength="30.83" lengthAdjust="spacingAndGlyphs">19-&#9633;0.5</text>
<text x="17.7" y="352.3" font-size="8.8" text-anchor="start" fill="#000" transform="rotate(-90 17.7 352.3)" textLength="83.39" lengthAdjust="spacingAndGlyphs">(SCREWING DEPTH)</text>
<line x1="34.4" y1="335.3" x2="153.8" y2="335.3" stroke="#000" stroke-width="1.3"/>
<line x1="303.3" y1="335.3" x2="397.8" y2="335.3" stroke="#000" stroke-width="1.3"/>
<line x1="310.5" y1="331.5" x2="414" y2="331.5" stroke="#000" stroke-width="1"/>
<line x1="34.4" y1="352.4" x2="60" y2="352.4" stroke="#000" stroke-width="1"/>
<line x1="39.4" y1="335.3" x2="39.4" y2="352.4" stroke="#000" stroke-width="1"/>
<polygon points="39.4,335.3 37.8,339.4 41,339.4" fill="#000"/>
<polygon points="39.4,352.4 37.8,348.3 41,348.3" fill="#000"/>
<text x="36.5" y="343.2" font-size="8.6" text-anchor="middle" fill="#000" transform="rotate(-90 36.5 343.2)" textLength="5.02" lengthAdjust="spacingAndGlyphs">7</text>
<line x1="16" y1="356.3" x2="57" y2="356.3" stroke="#000" stroke-width="1"/>
<line x1="16" y1="385.4" x2="61.5" y2="385.4" stroke="#000" stroke-width="1"/>
<line x1="21.8" y1="269.4" x2="21.8" y2="385.4" stroke="#000" stroke-width="1"/>
<polygon points="21.8,356.3 20.2,360.4 23.4,360.4" fill="#000"/>
<polygon points="21.8,385.4 20.2,381.3 23.4,381.3" fill="#000"/>
<text x="19" y="370" font-size="8.6" text-anchor="middle" fill="#000" transform="rotate(-90 19 370)" textLength="9.93" lengthAdjust="spacingAndGlyphs">12</text>
<line x1="374.5" y1="367" x2="397" y2="367" stroke="#000" stroke-width="1"/>
<line x1="392" y1="335" x2="392" y2="367" stroke="#000" stroke-width="1"/>
<polygon points="392,335 390.4,339.1 393.6,339.1" fill="#000"/>
<polygon points="392,367 390.4,362.9 393.6,362.9" fill="#000"/>
<text x="389.8" y="351.3" font-size="8.6" text-anchor="middle" fill="#000" transform="rotate(-90 389.8 351.3)" textLength="9.72" lengthAdjust="spacingAndGlyphs">13</text>
<line x1="377.8" y1="406.3" x2="414" y2="406.3" stroke="#000" stroke-width="1"/>
<line x1="409" y1="331" x2="409" y2="406.3" stroke="#000" stroke-width="1"/>
<polygon points="409,331 407.4,335.1 410.6,335.1" fill="#000"/>
<polygon points="409,406.3 407.4,402.2 410.6,402.2" fill="#000"/>
<text x="406.6" y="367" font-size="8.6" text-anchor="middle" fill="#000" transform="rotate(-90 406.6 367)" textLength="9.72" lengthAdjust="spacingAndGlyphs">31</text>
<path d="M60,352.4 H106 Q110,352.4 110,358.4 L108.6,358.6 Q108.2,355.6 105.5,355.6 H60 Z" fill="#b4b4b4" stroke="#666" stroke-width="0.7"/>
<line x1="60" y1="352.3" x2="106.5" y2="352.3" stroke="#222" stroke-width="0.9"/>
<rect x="102.4" y="356.4" width="4.6" height="2.6" rx="0" fill="#ccc" stroke="#777" stroke-width="0.8"/>
<path d="M103,359 H112.5 V367.4" fill="none" stroke="#000" stroke-width="1"/>
<path d="M60,356.3 Q56.9,356.3 56.9,359.5 V371.9 L61.9,388.8 Q62.3,390 63.5,390 H78.8 L84.6,395.8" fill="none" stroke="#888" stroke-width="1.2"/>
<line x1="59" y1="357.5" x2="59" y2="371.5" stroke="#aaa" stroke-width="1"/>
<line x1="56.9" y1="371.6" x2="84.6" y2="371.6" stroke="#000" stroke-width="1.1"/>
<line x1="84.6" y1="356.5" x2="84.6" y2="372" stroke="#000" stroke-width="1.3"/>
<line x1="84.6" y1="372" x2="84.6" y2="398.5" stroke="#888" stroke-width="1.2"/>
<path d="M64.4,356.5 V367.2 H84.6" fill="none" stroke="#000" stroke-width="1.1" stroke-dasharray="5.5 1.2 1.2 1.2"/>
<path d="M66.5,367.5 H81.6 V385.4 H66.5 Z" fill="none" stroke="#000" stroke-width="1.1" stroke-dasharray="6 1.2 1.5 1.2"/>
<line x1="84.6" y1="367.6" x2="133.75" y2="367.6" stroke="#000" stroke-width="1"/>
<path d="M83.1,398.75 V406.4 H376.5" fill="none" stroke="#000" stroke-width="1.2"/>
<path d="M83.1,398.75 H124.4 L127.5,402.5 H213.2 L215.8,398.75 H242.5 L244.5,402.5 H331 L334,398.75 H373.5 Q376.5,398.75 376.5,402 V406.4" fill="none" stroke="#777" stroke-width="1"/>
<line x1="124.4" y1="398.75" x2="124.4" y2="406.4" stroke="#888" stroke-width="1"/>
<line x1="215.8" y1="398.75" x2="215.8" y2="406.4" stroke="#555" stroke-width="1"/>
<line x1="242.5" y1="398.75" x2="242.5" y2="406.4" stroke="#555" stroke-width="1"/>
<path d="M133.7,371.4 V359 Q133.7,356.4 136.2,356.4 H170.6 Q173.1,356.4 173.1,359 V371.4" fill="none" stroke="#333" stroke-width="1"/>
<line x1="133.7" y1="371.4" x2="173.1" y2="371.4" stroke="#000" stroke-width="1.2"/>
<path d="M133.7,371.4 L141.4,390 H165.4 L173.1,371.4" fill="none" stroke="#222" stroke-width="1"/>
<path d="M141.4,390 V395 H165.4 V390" fill="none" stroke="#666" stroke-width="1"/>
<line x1="141.4" y1="390" x2="141.4" y2="395" stroke="#000" stroke-width="1"/>
<line x1="165.4" y1="390" x2="165.4" y2="395" stroke="#000" stroke-width="1"/>
<rect x="139.4" y="352.4" width="27.5" height="3.3" rx="0" fill="#aaa" stroke="#444" stroke-width="0.8"/>
<line x1="173.1" y1="367.5" x2="189.3" y2="367.5" stroke="#000" stroke-width="1"/>
<path d="M189.3,371.4 V359 Q189.3,356.4 191.8,356.4 H226.2 Q228.7,356.4 228.7,359 V371.4" fill="none" stroke="#333" stroke-width="1"/>
<line x1="189.3" y1="371.4" x2="228.7" y2="371.4" stroke="#000" stroke-width="1.2"/>
<path d="M189.3,371.4 L197,390 H221 L228.7,371.4" fill="none" stroke="#222" stroke-width="1"/>
<path d="M197,390 V395 H221 V390" fill="none" stroke="#666" stroke-width="1"/>
<line x1="197" y1="390" x2="197" y2="395" stroke="#000" stroke-width="1"/>
<line x1="221" y1="390" x2="221" y2="395" stroke="#000" stroke-width="1"/>
<rect x="195" y="352.4" width="28.1" height="3.3" rx="0" fill="#aaa" stroke="#444" stroke-width="0.8"/>
<line x1="228.7" y1="367.5" x2="245.1" y2="367.5" stroke="#000" stroke-width="1"/>
<path d="M245.1,371.4 V359 Q245.1,356.4 247.6,356.4 H282 Q284.5,356.4 284.5,359 V371.4" fill="none" stroke="#333" stroke-width="1"/>
<line x1="245.1" y1="371.4" x2="284.5" y2="371.4" stroke="#000" stroke-width="1.2"/>
<path d="M245.1,371.4 L252.8,390 H276.8 L284.5,371.4" fill="none" stroke="#222" stroke-width="1"/>
<path d="M252.8,390 V395 H276.8 V390" fill="none" stroke="#666" stroke-width="1"/>
<line x1="252.8" y1="390" x2="252.8" y2="395" stroke="#000" stroke-width="1"/>
<line x1="276.8" y1="390" x2="276.8" y2="395" stroke="#000" stroke-width="1"/>
<rect x="250.6" y="352.4" width="29.4" height="3.3" rx="0" fill="#aaa" stroke="#444" stroke-width="0.8"/>
<line x1="284.5" y1="367.5" x2="301.1" y2="367.5" stroke="#000" stroke-width="1"/>
<path d="M301.1,371.4 V359 Q301.1,356.4 303.6,356.4 H338 Q340.5,356.4 340.5,359 V371.4" fill="none" stroke="#333" stroke-width="1"/>
<line x1="301.1" y1="371.4" x2="340.5" y2="371.4" stroke="#000" stroke-width="1.2"/>
<path d="M301.1,371.4 L308.8,390 H332.8 L340.5,371.4" fill="none" stroke="#222" stroke-width="1"/>
<path d="M308.8,390 V395 H332.8 V390" fill="none" stroke="#666" stroke-width="1"/>
<line x1="308.8" y1="390" x2="308.8" y2="395" stroke="#000" stroke-width="1"/>
<line x1="332.8" y1="390" x2="332.8" y2="395" stroke="#000" stroke-width="1"/>
<rect x="306.9" y="352.4" width="28.1" height="3.3" rx="0" fill="#aaa" stroke="#444" stroke-width="0.8"/>
<line x1="167.5" y1="355.3" x2="195" y2="355.3" stroke="#000" stroke-width="1.3"/>
<line x1="223" y1="355.3" x2="250.8" y2="355.3" stroke="#000" stroke-width="1.3"/>
<line x1="278.8" y1="355.3" x2="306.8" y2="355.3" stroke="#000" stroke-width="1.3"/>
<path d="M175.3,355.3 V351.6 H178 V355 H180.6 V351.6 H184 V355 H186.2 V351.6 H189.6 V355.3" fill="none" stroke="#000" stroke-width="1"/>
<path d="M226,355.3 V351.6 H228.8 V355.3" fill="none" stroke="#000" stroke-width="1"/>
<line x1="155.2" y1="336" x2="155.2" y2="352.4" stroke="#000" stroke-width="1.4"/>
<line x1="156.15" y1="336" x2="156.15" y2="352.4" stroke="#999" stroke-width="0.7"/>
<line x1="160.03" y1="336" x2="160.03" y2="352.4" stroke="#000" stroke-width="1.4"/>
<line x1="160.98" y1="336" x2="160.98" y2="352.4" stroke="#999" stroke-width="0.7"/>
<line x1="164.86" y1="336" x2="164.86" y2="352.4" stroke="#000" stroke-width="1.4"/>
<line x1="165.81" y1="336" x2="165.81" y2="352.4" stroke="#999" stroke-width="0.7"/>
<line x1="169.69" y1="336" x2="169.69" y2="352.4" stroke="#000" stroke-width="1.4"/>
<line x1="170.64" y1="336" x2="170.64" y2="352.4" stroke="#999" stroke-width="0.7"/>
<line x1="194.3" y1="336" x2="194.3" y2="352.4" stroke="#000" stroke-width="1.4"/>
<line x1="195.25" y1="336" x2="195.25" y2="352.4" stroke="#999" stroke-width="0.7"/>
<line x1="199.13" y1="336" x2="199.13" y2="352.4" stroke="#000" stroke-width="1.4"/>
<line x1="200.08" y1="336" x2="200.08" y2="352.4" stroke="#999" stroke-width="0.7"/>
<line x1="203.96" y1="336" x2="203.96" y2="352.4" stroke="#000" stroke-width="1.4"/>
<line x1="204.91" y1="336" x2="204.91" y2="352.4" stroke="#999" stroke-width="0.7"/>
<line x1="208.79" y1="336" x2="208.79" y2="352.4" stroke="#000" stroke-width="1.4"/>
<line x1="209.74" y1="336" x2="209.74" y2="352.4" stroke="#999" stroke-width="0.7"/>
<line x1="233.1" y1="336" x2="233.1" y2="352.4" stroke="#000" stroke-width="1.4"/>
<line x1="234.05" y1="336" x2="234.05" y2="352.4" stroke="#999" stroke-width="0.7"/>
<line x1="237.93" y1="336" x2="237.93" y2="352.4" stroke="#000" stroke-width="1.4"/>
<line x1="238.88" y1="336" x2="238.88" y2="352.4" stroke="#999" stroke-width="0.7"/>
<line x1="242.76" y1="336" x2="242.76" y2="352.4" stroke="#000" stroke-width="1.4"/>
<line x1="243.71" y1="336" x2="243.71" y2="352.4" stroke="#999" stroke-width="0.7"/>
<line x1="247.59" y1="336" x2="247.59" y2="352.4" stroke="#000" stroke-width="1.4"/>
<line x1="248.54" y1="336" x2="248.54" y2="352.4" stroke="#999" stroke-width="0.7"/>
<line x1="272.1" y1="336" x2="272.1" y2="352.4" stroke="#000" stroke-width="1.4"/>
<line x1="273.05" y1="336" x2="273.05" y2="352.4" stroke="#999" stroke-width="0.7"/>
<line x1="276.93" y1="336" x2="276.93" y2="352.4" stroke="#000" stroke-width="1.4"/>
<line x1="277.88" y1="336" x2="277.88" y2="352.4" stroke="#999" stroke-width="0.7"/>
<line x1="281.76" y1="336" x2="281.76" y2="355" stroke="#000" stroke-width="1.4"/>
<line x1="282.71" y1="336" x2="282.71" y2="355" stroke="#999" stroke-width="0.7"/>
<line x1="286.59" y1="336" x2="286.59" y2="355" stroke="#000" stroke-width="1.4"/>
<line x1="287.54" y1="336" x2="287.54" y2="355" stroke="#999" stroke-width="0.7"/>
<line x1="291.42" y1="336" x2="291.42" y2="355" stroke="#000" stroke-width="1.4"/>
<line x1="292.37" y1="336" x2="292.37" y2="355" stroke="#999" stroke-width="0.7"/>
<line x1="296.25" y1="336" x2="296.25" y2="355" stroke="#000" stroke-width="1.4"/>
<line x1="297.2" y1="336" x2="297.2" y2="355" stroke="#999" stroke-width="0.7"/>
<line x1="301.08" y1="336" x2="301.08" y2="355" stroke="#000" stroke-width="1.4"/>
<line x1="302.03" y1="336" x2="302.03" y2="355" stroke="#999" stroke-width="0.7"/>
<rect x="145.3" y="333.6" width="4.4" height="18.7" rx="0" fill="none" stroke="#888" stroke-width="0.9"/>
<path d="M145.3,333.6 V332.6 Q145.3,330.3 147.5,330.3 Q149.7,330.3 149.7,332.6 V333.6 Z" fill="#fff" stroke="#111" stroke-width="1.1"/>
<line x1="147.3" y1="326" x2="147.3" y2="329.5" stroke="#000" stroke-width="1.1"/>
<line x1="147.3" y1="331.3" x2="147.3" y2="333.3" stroke="#000" stroke-width="1.1"/>
<line x1="147.3" y1="336.2" x2="147.3" y2="346.6" stroke="#000" stroke-width="1.1"/>
<line x1="147.3" y1="347.9" x2="147.3" y2="351.8" stroke="#000" stroke-width="1.1"/>
<line x1="147.3" y1="353" x2="147.3" y2="362.5" stroke="#000" stroke-width="1.1"/>
<rect x="306.7" y="333.6" width="5.6" height="18.7" rx="0" fill="none" stroke="#888" stroke-width="0.9"/>
<path d="M306.7,333.6 V332.6 Q306.7,330.3 309.5,330.3 Q312.3,330.3 312.3,332.6 V333.6 Z" fill="#fff" stroke="#111" stroke-width="1.1"/>
<line x1="309.3" y1="326" x2="309.3" y2="329.5" stroke="#000" stroke-width="1.1"/>
<line x1="309.3" y1="331.3" x2="309.3" y2="333.3" stroke="#000" stroke-width="1.1"/>
<line x1="309.3" y1="336.2" x2="309.3" y2="346.6" stroke="#000" stroke-width="1.1"/>
<line x1="309.3" y1="347.9" x2="309.3" y2="351.8" stroke="#000" stroke-width="1.1"/>
<line x1="309.3" y1="353" x2="309.3" y2="362.5" stroke="#000" stroke-width="1.1"/>
<path d="M340.5,367.4 H371 Q373.5,367.4 373.5,370 V398.5" fill="none" stroke="#222" stroke-width="1"/>
<line x1="541.5" y1="41.9" x2="541.5" y2="84.5" stroke="#000" stroke-width="1"/>
<line x1="579.3" y1="41.9" x2="579.3" y2="84.5" stroke="#000" stroke-width="1"/>
<line x1="541.5" y1="47.25" x2="579.3" y2="47.25" stroke="#000" stroke-width="1"/>
<polygon points="541.5,47.25 545.6,45.65 545.6,48.85" fill="#000"/>
<polygon points="579.3,47.25 575.2,45.65 575.2,48.85" fill="#000"/>
<text x="560" y="44.5" font-size="8.6" text-anchor="middle" fill="#000" textLength="9.61" lengthAdjust="spacingAndGlyphs">16</text>
<line x1="572.4" y1="59" x2="572.4" y2="98.5" stroke="#000" stroke-width="1"/>
<line x1="558" y1="64" x2="593.75" y2="64" stroke="#000" stroke-width="1"/>
<polygon points="572.4,64 568.3,62.4 568.3,65.6" fill="#000"/>
<polygon points="579.3,64 583.4,62.4 583.4,65.6" fill="#000"/>
<text x="588" y="61.3" font-size="8.6" text-anchor="middle" fill="#000" textLength="4.49" lengthAdjust="spacingAndGlyphs">3</text>
<line x1="541.5" y1="84.5" x2="580.6" y2="84.5" stroke="#333" stroke-width="1"/>
<line x1="541.5" y1="84.5" x2="541.5" y2="215" stroke="#666" stroke-width="1"/>
<line x1="580.6" y1="84.5" x2="580.6" y2="217" stroke="#777" stroke-width="1"/>
<line x1="580.6" y1="217" x2="580.6" y2="268.5" stroke="#000" stroke-width="1"/>
<line x1="572.3" y1="84.5" x2="572.3" y2="98.5" stroke="#777" stroke-width="1"/>
<path d="M580.6,98.5 H572.3 L576.3,101.6 V116 L573,119" fill="none" stroke="#222" stroke-width="1"/>
<line x1="572.6" y1="119" x2="572.6" y2="216.4" stroke="#777" stroke-width="1"/>
<line x1="573" y1="120.4" x2="580.6" y2="120.4" stroke="#999" stroke-width="1"/>
<line x1="541.5" y1="133.5" x2="572.6" y2="133.5" stroke="#444" stroke-width="1"/>
<line x1="541.5" y1="167" x2="572.6" y2="167" stroke="#000" stroke-width="1"/>
<path d="M541.5,215 Q541.5,216.3 543,216.3 H572.5 L580.6,217.3" fill="none" stroke="#333" stroke-width="1"/>
<path d="M541.5,88.1 H533 Q530.4,88.1 530.4,90.7 V124.7 Q530.4,127.3 533,127.3 H541.5" fill="none" stroke="#111" stroke-width="1"/>
<line x1="533.2" y1="89.6" x2="533.2" y2="125.8" stroke="#888" stroke-width="1"/>
<path d="M530.4,93.3 H527.5 Q526.3,93.3 526.3,94.6 V120.8 Q526.3,122.3 527.5,122.3 H530.4" fill="none" stroke="#444" stroke-width="1"/>
<line x1="527.4" y1="94.1" x2="527.4" y2="121.3" stroke="#aaa" stroke-width="1"/>
<path d="M541.5,174.1 H533 Q530.4,174.1 530.4,176.7 V206.6" fill="none" stroke="#111" stroke-width="1"/>
<line x1="533.2" y1="175.6" x2="533.2" y2="205.4" stroke="#888" stroke-width="1"/>
<line x1="533.2" y1="205.4" x2="541.5" y2="205.4" stroke="#444" stroke-width="1"/>
<path d="M530.4,206.6 H526.3 V181.1 Q526.3,179.7 527.5,179.7 H530.4" fill="none" stroke="#444" stroke-width="1"/>
<line x1="527.6" y1="180.6" x2="527.6" y2="206" stroke="#aaa" stroke-width="1"/>
<path d="M541.5,144.4 H526.7 V156.9 H541.5" fill="none" stroke="#777" stroke-width="1"/>
<line x1="529.7" y1="144.4" x2="529.7" y2="156.9" stroke="#777" stroke-width="1"/>
<path d="M529.4,147.3 H507.2 Q504.2,147.5 504.2,150.25 Q504.2,153 507.2,153.2 H529.4" fill="none" stroke="#000" stroke-width="1.2"/>
<line x1="507.3" y1="147.3" x2="507.3" y2="153.2" stroke="#333" stroke-width="0.9"/>
<line x1="499" y1="150.25" x2="547" y2="150.25" stroke="#000" stroke-width="1" stroke-dasharray="4 6 4.5 2.5 8 7.5 5.5 2.7 7"/>
<line x1="491.2" y1="115.75" x2="491.2" y2="165.75" stroke="#000" stroke-width="1"/>
<line x1="486.2" y1="147.3" x2="503.7" y2="147.3" stroke="#000" stroke-width="1.3"/>
<line x1="486.2" y1="153.2" x2="503.7" y2="153.2" stroke="#000" stroke-width="1.3"/>
<polygon points="491.2,147.3 489.6,143.2 492.8,143.2" fill="#000"/>
<polygon points="491.2,153.2 489.6,157.3 492.8,157.3" fill="#000"/>
<text x="488.1" y="140.6" font-size="8.6" text-anchor="start" fill="#000" transform="rotate(-90 488.1 140.6)" textLength="26.12" lengthAdjust="spacingAndGlyphs">2-&#981;2.5</text>
<line x1="526.5" y1="210.5" x2="526.5" y2="241.6" stroke="#777" stroke-width="1"/>
<line x1="528.7" y1="210.5" x2="528.7" y2="241.6" stroke="#888" stroke-width="1"/>
<path d="M529.4,241.6 Q529.6,245.4 532.5,245.4 H545 L563.1,240.4 Q563.8,240 563.8,239 V221.6 L570,216.4" fill="none" stroke="#444" stroke-width="1"/>
<line x1="545" y1="216.3" x2="545" y2="245.4" stroke="#999" stroke-width="1"/>
<path d="M526.5,211 Q526.5,208.6 529,208 L532.3,207.8 M531.9,209.5 V213.5 L532.6,214" fill="none" stroke="#444" stroke-width="1"/>
<line x1="526.5" y1="241.6" x2="526.5" y2="268.5" stroke="#000" stroke-width="1"/>
<line x1="526.5" y1="262.9" x2="580.6" y2="262.9" stroke="#000" stroke-width="1"/>
<polygon points="526.5,262.9 530.6,261.3 530.6,264.5" fill="#000"/>
<polygon points="580.6,262.9 576.5,261.3 576.5,264.5" fill="#000"/>
<text x="543.8" y="259.2" font-size="8.6" text-anchor="start" fill="#000" textLength="9.72" lengthAdjust="spacingAndGlyphs">22</text>
<text x="553.6" y="258" font-size="5.5" text-anchor="start" fill="#000">+</text>
<text x="553.6" y="260.8" font-size="5.5" text-anchor="start" fill="#000">&#8722;</text>
<text x="558.6" y="256.6" font-size="4.6" text-anchor="start" fill="#000">1</text>
<text x="557.8" y="260.6" font-size="4.2" text-anchor="start" fill="#000" textLength="7.84" lengthAdjust="spacingAndGlyphs">0.5</text>
<line x1="543.8" y1="260" x2="557.3" y2="260" stroke="#000" stroke-width="0.7"/>
<text x="493.5" y="298.4" font-size="10.3" text-anchor="start" fill="#000" textLength="61.45" lengthAdjust="spacingAndGlyphs" style="stroke-width:0.1px">Terminal code</text>
<text x="516.2" y="315.4" font-size="9.85" text-anchor="end" fill="#000" style="stroke-width:0.1px">1.</text>
<text x="520.5" y="315.4" font-size="9.85" text-anchor="start" fill="#000" style="stroke-width:0.1px">VUPC</text>
<text x="516.2" y="329.47" font-size="9.85" text-anchor="end" fill="#000" style="stroke-width:0.1px">2.</text>
<text x="520.5" y="329.47" font-size="9.85" text-anchor="start" fill="#000" style="stroke-width:0.1px">UFO</text>
<text x="516.2" y="343.54" font-size="9.85" text-anchor="end" fill="#000" style="stroke-width:0.1px">3.</text>
<text x="520.5" y="343.54" font-size="9.85" text-anchor="start" fill="#000" style="stroke-width:0.1px">UP</text>
<text x="516.2" y="357.61" font-size="9.85" text-anchor="end" fill="#000" style="stroke-width:0.1px">4.</text>
<text x="520.5" y="357.61" font-size="9.85" text-anchor="start" fill="#000" style="stroke-width:0.1px">VUP1</text>
<text x="516.2" y="371.68" font-size="9.85" text-anchor="end" fill="#000" style="stroke-width:0.1px">5.</text>
<text x="520.5" y="371.68" font-size="9.85" text-anchor="start" fill="#000" style="stroke-width:0.1px">VVPC</text>
<text x="516.2" y="385.75" font-size="9.85" text-anchor="end" fill="#000" style="stroke-width:0.1px">6.</text>
<text x="520.5" y="385.75" font-size="9.85" text-anchor="start" fill="#000" style="stroke-width:0.1px">VFO</text>
<text x="516.2" y="399.82" font-size="9.85" text-anchor="end" fill="#000" style="stroke-width:0.1px">7.</text>
<text x="520.5" y="399.82" font-size="9.85" text-anchor="start" fill="#000" style="stroke-width:0.1px">VP</text>
<text x="516.2" y="413.89" font-size="9.85" text-anchor="end" fill="#000" style="stroke-width:0.1px">8.</text>
<text x="520.5" y="413.89" font-size="9.85" text-anchor="start" fill="#000" style="stroke-width:0.1px">VVP1</text>
<text x="516.2" y="427.96" font-size="9.85" text-anchor="end" fill="#000" style="stroke-width:0.1px">9.</text>
<text x="520.5" y="427.96" font-size="9.85" text-anchor="start" fill="#000" style="stroke-width:0.1px">VWPC</text>
<text x="516.2" y="442.03" font-size="9.85" text-anchor="end" fill="#000" style="stroke-width:0.1px">10.</text>
<text x="520.5" y="442.03" font-size="9.85" text-anchor="start" fill="#000" style="stroke-width:0.1px">WFO</text>
<text x="573.4" y="315.4" font-size="9.85" text-anchor="end" fill="#000" style="stroke-width:0.1px">11.</text>
<text x="578" y="315.4" font-size="9.85" text-anchor="start" fill="#000" style="stroke-width:0.1px">WP</text>
<text x="573.4" y="329.47" font-size="9.85" text-anchor="end" fill="#000" style="stroke-width:0.1px">12.</text>
<text x="578" y="329.47" font-size="9.85" text-anchor="start" fill="#000" style="stroke-width:0.1px">VWP1</text>
<text x="573.4" y="343.54" font-size="9.85" text-anchor="end" fill="#000" style="stroke-width:0.1px">13.</text>
<text x="578" y="343.54" font-size="9.85" text-anchor="start" fill="#000" style="stroke-width:0.1px">VNC</text>
<text x="573.4" y="357.61" font-size="9.85" text-anchor="end" fill="#000" style="stroke-width:0.1px">14.</text>
<text x="578" y="357.61" font-size="9.85" text-anchor="start" fill="#000" style="stroke-width:0.1px">VN1</text>
<text x="573.4" y="371.68" font-size="9.85" text-anchor="end" fill="#000" style="stroke-width:0.1px">15.</text>
<text x="578" y="371.68" font-size="9.85" text-anchor="start" fill="#000" style="stroke-width:0.1px">Br</text>
<text x="573.4" y="385.75" font-size="9.85" text-anchor="end" fill="#000" style="stroke-width:0.1px">16.</text>
<text x="578" y="385.75" font-size="9.85" text-anchor="start" fill="#000" style="stroke-width:0.1px">UN</text>
<text x="573.4" y="399.82" font-size="9.85" text-anchor="end" fill="#000" style="stroke-width:0.1px">17.</text>
<text x="578" y="399.82" font-size="9.85" text-anchor="start" fill="#000" style="stroke-width:0.1px">VN</text>
<text x="573.4" y="413.89" font-size="9.85" text-anchor="end" fill="#000" style="stroke-width:0.1px">18.</text>
<text x="578" y="413.89" font-size="9.85" text-anchor="start" fill="#000" style="stroke-width:0.1px">WN</text>
<text x="573.4" y="427.96" font-size="9.85" text-anchor="end" fill="#000" style="stroke-width:0.1px">19.</text>
<text x="578" y="427.96" font-size="9.85" text-anchor="start" fill="#000" style="stroke-width:0.1px">Fo</text>
</svg>
</body></html>
